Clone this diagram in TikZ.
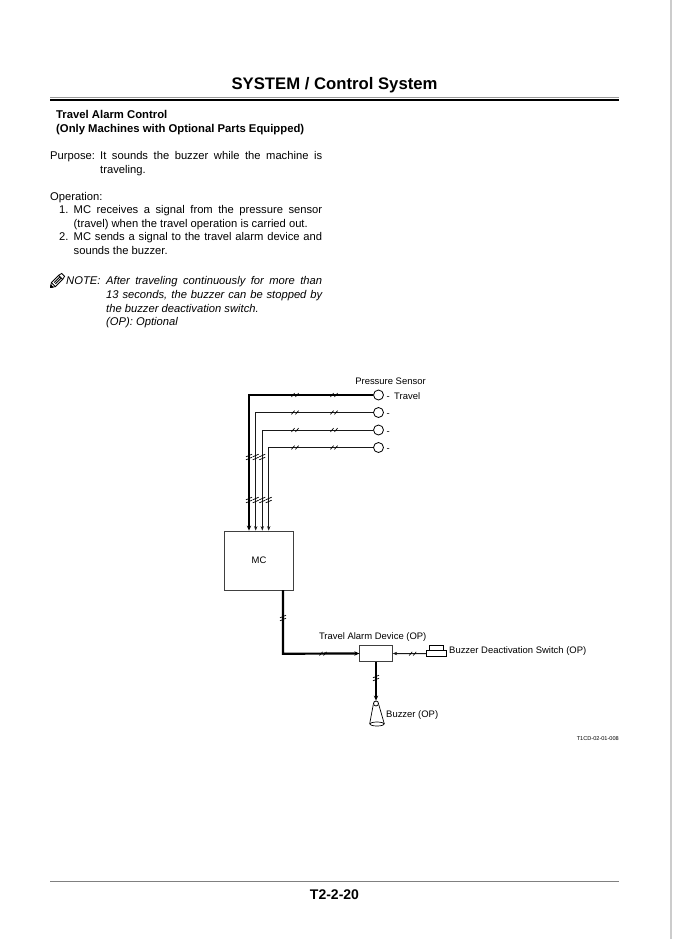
\documentclass[tikz,border=0pt]{standalone}
\usepackage{fontspec}
\setmainfont{Liberation Sans}
\usetikzlibrary{arrows.meta,positioning,shapes.geometric}
\newcommand{\just}[1]{\makebox[222pt][s]{#1}}
\begin{document}
\begin{tikzpicture}[x=1pt,y=-1pt]
\tikzset{
  bodytext/.style={anchor=base west,inner sep=0pt,font=\fontsize{11.2}{13}\selectfont},
  boldtext/.style={bodytext,font=\fontsize{11.3}{13}\selectfont\bfseries},
  notetext/.style={bodytext,font=\fontsize{11.2}{13}\selectfont\itshape},
  labeltext/.style={anchor=base west,inner sep=0pt,font=\fontsize{9.45}{11}\selectfont},
  blockbox/.style={draw=black!75,fill=white,inner sep=0pt,line width=0.8pt},
  sensor/.style={circle,draw,fill=white,line width=0.8pt,minimum size=10pt,inner sep=0pt},
  wire/.style={line width=1pt,black!90,-{Stealth[length=4.5pt,width=3.4pt]}},
  heavywire/.style={line width=2.2pt,black,-{Stealth[length=5pt,width=4.4pt]}},
  brkh/.pic={\draw[line width=0.7pt] (-3.5,1.8) -- (-0.5,-1.8) (0.5,1.8) -- (3.5,-1.8);},
  brkv/.pic={\draw[line width=0.7pt] (-3,-0.2) -- (3,-2.8) (-3,2.8) -- (3,0.2);}
}
\useasboundingbox (0,0) rectangle (672,939);
\draw[line width=1.5pt,black!20] (671,0) -- (671,939);
% header and footer
\node[font=\fontsize{16.7}{18}\selectfont\bfseries,inner sep=0pt] (n_title) at (334.5,85) {SYSTEM / Control System};
\draw[line width=1pt,black!40] (50,98) -- (619,98);
\draw[line width=2pt] (50,100.5) -- (619,100.5);
\draw[line width=1pt,black!50] (50,881) -- (619,881);
\node[font=\fontsize{14}{16}\selectfont\bfseries,inner sep=0pt] (n_page) at (334.5,895) {T2-2-20};
% text column
\node[boldtext] (n_t1) at (56,118) {Travel Alarm Control};
\node[boldtext] (n_t2) at (56,132) {(Only Machines with Optional Parts Equipped)};
\node[bodytext] (n_p0) at (50,159) {Purpose:};
\node[bodytext] (n_p1) at (100,159) {\just{It sounds the buzzer while the machine is}};
\node[bodytext] (n_p2) at (100,173) {traveling.};
\node[bodytext] (n_o0) at (50,200) {Operation:};
\node[bodytext] (n_o1) at (59,213) {1.};
\node[bodytext] (n_o2) at (73.5,213) {\makebox[248.5pt][s]{MC receives a signal from the pressure sensor}};
\node[bodytext] (n_o3) at (73.5,227) {(travel) when the travel operation is carried out.};
\node[bodytext] (n_o4) at (59,240) {2.};
\node[bodytext] (n_o5) at (73.5,240) {\makebox[248.5pt][s]{MC sends a signal to the travel alarm device and}};
\node[bodytext] (n_o6) at (73.5,254) {sounds the buzzer.};
\node[notetext] (n_n0) at (66,284) {NOTE:};
\node[notetext] (n_n1) at (106,284) {\makebox[216pt][s]{After traveling continuously for more than}};
\node[notetext] (n_n2) at (106,298) {\makebox[216pt][s]{13 seconds, the buzzer can be stopped by}};
\node[notetext] (n_n3) at (106,312) {the buzzer deactivation switch.};
\node[notetext] (n_n4) at (106,325) {(OP): Optional};
% pencil
\begin{scope}[shift={(50.5,287.5)},rotate=45,scale=1.02,line width=0.8pt]
\draw[fill=white] (0,0) -- (4,-2.8) -- (14,-2.8) -- (14,2.8) -- (4,2.8) -- cycle;
\draw[fill=black] (0,0) -- (2,-1.4) -- (2,1.4) -- cycle;
\draw (4,-2.8) -- (4,2.8) (6,-0.9) -- (14,-0.9) (6,0.9) -- (14,0.9) (14,-2.8) -- (17.5,-2) -- (17.5,2) -- (14,2.8);
\end{scope}
% blocks
\node[blockbox,minimum width=69.5pt,minimum height=59pt] (n_mc) at (259,560.5) {};
\node[font=\fontsize{9.45}{11}\selectfont,inner sep=0pt] (n_mclabel) at (259,560) {MC};
\node[sensor] (n_s1) at (378.5,395) {};
\node[sensor] (n_s2) at (378.5,412.5) {};
\node[sensor] (n_s3) at (378.5,430) {};
\node[sensor] (n_s4) at (378.5,447.5) {};
\node[blockbox,minimum width=32.5pt,minimum height=15.5pt] (n_alarm) at (376,653.5) {};
\coordinate (c_s1) at (249,395);
\coordinate (c_s2) at (255.7,412.5);
\coordinate (c_s3) at (262.3,430);
\coordinate (c_s4) at (268.7,447.5);
\coordinate (c_mc) at (283,590);
\coordinate (c_alarm) at (283,653.7);
% wires
\draw[heavywire] (n_s1) -- (c_s1) -- (n_mc.north -| c_s1);
\draw[wire] (n_s2) -- (c_s2) -- (n_mc.north -| c_s2);
\draw[wire] (n_s3) -- (c_s3) -- (n_mc.north -| c_s3);
\draw[wire] (n_s4) -- (c_s4) -- (n_mc.north -| c_s4);
\draw[heavywire] (c_mc) -- (c_alarm) -- (n_alarm.west);
% switch
\node[draw,line width=0.8pt,fill=white,minimum width=13.5pt,minimum height=5pt,inner sep=0pt] (n_button) at (436.2,648.2) {};
\node[draw,line width=0.8pt,fill=white,minimum width=19.5pt,minimum height=6pt,inner sep=0pt] (n_switch) at (436.5,653.6) {};
\draw[wire] (n_switch.west) -- (n_alarm.east);
% buzzer
\node[circle,draw,line width=0.8pt,fill=white,minimum size=5pt,inner sep=0pt] (n_horn) at (376,703.5) {};
\node[draw,line width=0.7pt,ellipse,minimum width=14pt,minimum height=4pt,inner sep=0pt] (n_bell) at (377,724) {};
\draw[heavywire] (n_alarm.south) -- (n_horn.north);
\draw[line width=0.7pt] (n_horn.200) -- (n_bell.west);
\draw[line width=0.7pt] (n_horn.-20) -- (n_bell.east);
% break marks
\foreach \wy in {395,412.5,430,447.5}
  \foreach \wx in {295,334}
    \pic at (\wx,\wy) {brkh};
\foreach \wx in {249,255.7,262.3}
  \pic at (\wx,457) {brkv};
\foreach \wx in {249,255.7,262.3,268.7}
  \pic at (\wx,500) {brkv};
\pic at (283,618) {brkv};
\pic at (323,653.7) {brkh};
\pic at (412.7,653.7) {brkh};
\pic at (376,678) {brkv};
% labels
\node[labeltext,anchor=base] (n_ps) at (390.5,384.5) {Pressure Sensor};
\node[labeltext] (n_d1) at (386.5,399) {-};
\node[labeltext] (n_travel) at (394,399) {Travel};
\node[labeltext] (n_d2) at (386.5,416.5) {-};
\node[labeltext] (n_d3) at (386.5,434) {-};
\node[labeltext] (n_d4) at (386.5,451.5) {-};
\node[labeltext,anchor=base] (n_ta) at (372.7,639) {Travel Alarm Device (OP)};
\node[labeltext] (n_bd) at (449,653.5) {Buzzer Deactivation Switch (OP)};
\node[labeltext] (n_bz) at (386,717) {Buzzer (OP)};
\node[anchor=base east,inner sep=0pt,font=\fontsize{5.6}{6}\selectfont] (n_ref) at (619,740) {T1CD-02-01-008};
\end{tikzpicture}
\end{document}
